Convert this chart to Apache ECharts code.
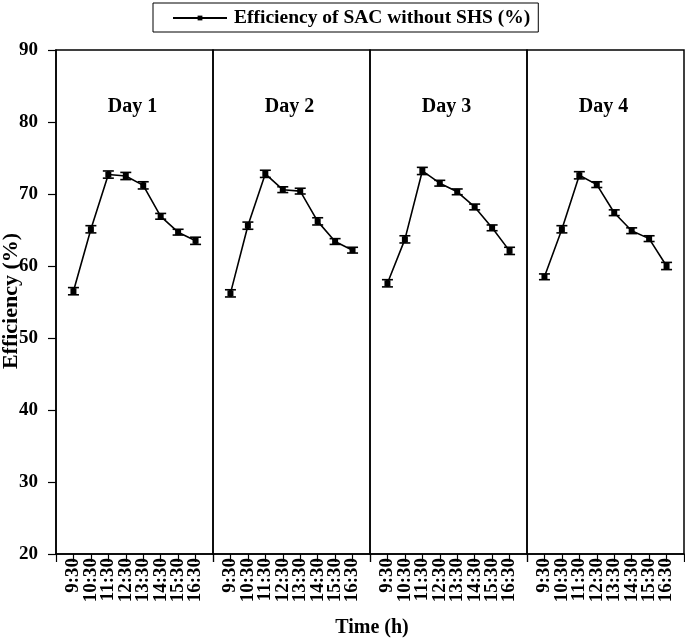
<!DOCTYPE html>
<html><head><meta charset="utf-8">
<script src="https://cdn.jsdelivr.net/npm/echarts@6/dist/echarts.min.js"></script>
<style>html,body{margin:0;padding:0;background:#fff}#c{width:685px;height:639px}</style>
</head><body><div id="c"></div>
<script>
const timeLabels = ['9:30','10:30','11:30','12:30','13:30','14:30','15:30','16:30'];
const dayNames = ['Day 1','Day 2','Day 3','Day 4'];
const day1 = [56.5, 65.1, 72.7, 72.5, 71.2, 66.9, 64.7, 63.5];
const day2 = [56.2, 65.6, 72.8, 70.6, 70.4, 66.2, 63.4, 62.2];
const day3 = [57.6, 63.7, 73.2, 71.5, 70.3, 68.2, 65.3, 62.1];
const day4 = [58.5, 65.1, 72.6, 71.3, 67.4, 64.9, 63.8, 60.0];
const err1 = [0.5, 0.5, 0.5, 0.5, 0.5, 0.4, 0.4, 0.5];
const err2 = [0.5, 0.5, 0.5, 0.4, 0.4, 0.5, 0.4, 0.4];
const err3 = [0.5, 0.5, 0.5, 0.4, 0.4, 0.4, 0.4, 0.5];
const err4 = [0.4, 0.5, 0.5, 0.4, 0.4, 0.4, 0.4, 0.5];
const seriesName = 'Efficiency of SAC without SHS (%)';
const yTicks = [20, 30, 40, 50, 60, 70, 80, 90];
const xTitle = 'Time (h)';
const yTitle = 'Efficiency (%)';

const days = [day1, day2, day3, day4];
const errs = [err1, err2, err3, err4];
const FONT = '"Liberation Serif", "Times New Roman", serif';
const L0 = 56, PW = 157, TOP = 50, PH = 504;

const grids = [], xAxes = [], yAxes = [], series = [], graphics = [];
days.forEach((d, i) => {
  grids.push({left: L0 + i*PW, top: TOP, width: PW, height: PH, show: true, borderColor: '#000', borderWidth: 1.5, backgroundColor: 'transparent'});
  xAxes.push({
    type: 'value', gridIndex: i, min: 0, max: 9, interval: 1,
    axisLine: {show: true, onZero: false, lineStyle: {color: '#000', width: 1.5}},
    axisTick: {show: true, length: 8, lineStyle: {color: '#000', width: 1.2}},
    splitLine: {show: false},
    axisLabel: {
      rotate: 90, margin: 4, color: '#000', fontFamily: FONT, fontWeight: 'bold', fontSize: 19,
      formatter: v => timeLabels[v-1] || ''
    }
  });
  yAxes.push({
    type: 'value', gridIndex: i, min: 20, max: 90, interval: 10,
    show: i === 0,
    axisLine: {show: true, lineStyle: {color: '#000', width: 1.5}},
    axisTick: {show: true, length: 8, lineStyle: {color: '#000', width: 1.2}},
    splitLine: {show: false},
    axisLabel: {color: '#000', fontFamily: FONT, fontWeight: 'bold', fontSize: 19, margin: 18,
      formatter: v => yTicks.includes(v) ? String(v) : ''}
  });
  series.push({
    name: seriesName, type: 'line', xAxisIndex: i, yAxisIndex: i,
    data: d.map((v, k) => [k+1, v]),
    symbol: 'rect', symbolSize: 6, showSymbol: true,
    lineStyle: {color: '#000', width: 1.6},
    itemStyle: {color: '#000'},
    z: 3
  });
  series.push({
    type: 'custom', xAxisIndex: i, yAxisIndex: i,
    data: d.map((v, k) => [k+1, v - errs[i][k], v + errs[i][k]]),
    renderItem: (params, api) => {
      const x = api.value(0);
      const lo = api.coord([x, api.value(1)]);
      const hi = api.coord([x, api.value(2)]);
      const hw = 5.5;
      return {type: 'group', children: [
        {type: 'line', shape: {x1: lo[0], y1: lo[1], x2: hi[0], y2: hi[1]}, style: {stroke: '#000', lineWidth: 3}},
        {type: 'line', shape: {x1: lo[0]-hw, y1: lo[1], x2: lo[0]+hw, y2: lo[1]}, style: {stroke: '#000', lineWidth: 1.6}},
        {type: 'line', shape: {x1: hi[0]-hw, y1: hi[1], x2: hi[0]+hw, y2: hi[1]}, style: {stroke: '#000', lineWidth: 1.6}}
      ]};
    },
    z: 4, silent: true
  });
  graphics.push({type: 'text', x: L0 + i*PW + PW/2 - 2, y: 107,
    style: {text: dayNames[i], fill: '#000', font: 'bold 20px ' + FONT, textAlign: 'center', textVerticalAlign: 'middle'}});
});

graphics.push({type: 'text', x: L0 + 2*PW + 2, y: 628,
  style: {text: xTitle, fill: '#000', font: 'bold 20px ' + FONT, textAlign: 'center', textVerticalAlign: 'middle'}});
graphics.push({type: 'text', x: 11, y: 301, rotation: Math.PI/2,
  style: {text: yTitle, fill: '#000', font: 'bold 22px ' + FONT, textAlign: 'center', textVerticalAlign: 'middle'}});

const chart = echarts.init(document.getElementById('c'), null, {renderer: 'canvas'});
chart.setOption({
  animation: false,
  backgroundColor: '#fff',
  legend: {
    data: [seriesName], top: 3, left: 153,
    borderColor: '#000', borderWidth: 1, padding: [5, 8, 4, 19],
    itemWidth: 54, itemHeight: 6, itemGap: 6,
    textStyle: {color: '#000', fontFamily: FONT, fontWeight: 'bold', fontSize: 19.5, padding: [0,0,0,2]}
  },
  grid: grids, xAxis: xAxes, yAxis: yAxes, series: series, graphic: graphics
});
</script></body></html>
